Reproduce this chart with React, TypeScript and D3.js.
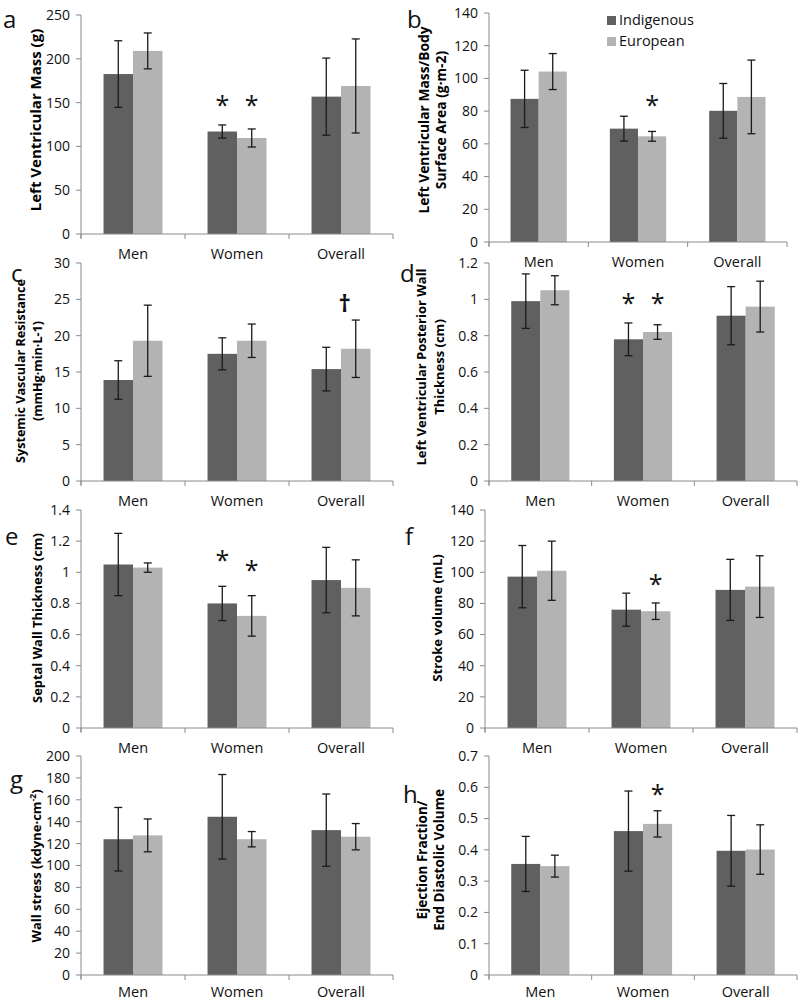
import React from "react";
import * as d3 from "d3";

const categories = ["Men", "Women", "Overall"];
const groups = ["Indigenous", "European"];
const groupColors = ["#606060", "#b3b3b3"];

// a - left ventricular mass
const lvMassInd = [182.6, 117, 156.8];
const lvMassIndSd = [38, 7.5, 44];
const lvMassEur = [209, 109.6, 169];
const lvMassEurSd = [20.5, 10.3, 53.7];
const lvMassTicks = [0, 50, 100, 150, 200, 250];

// b - LV mass / body surface area
const lvmBsaInd = [87.5, 69.3, 80.2];
const lvmBsaIndSd = [17.5, 7.6, 16.7];
const lvmBsaEur = [104.2, 64.6, 88.7];
const lvmBsaEurSd = [11, 3, 22.5];
const lvmBsaTicks = [0, 20, 40, 60, 80, 100, 120, 140];

// c - systemic vascular resistance
const svrInd = [13.9, 17.5, 15.4];
const svrIndSd = [2.65, 2.2, 3];
const svrEur = [19.3, 19.3, 18.2];
const svrEurSd = [4.9, 2.3, 3.95];
const svrTicks = [0, 5, 10, 15, 20, 25, 30];

// d - LV posterior wall thickness
const pwtInd = [0.99, 0.78, 0.91];
const pwtIndSd = [0.15, 0.09, 0.16];
const pwtEur = [1.05, 0.82, 0.96];
const pwtEurSd = [0.08, 0.04, 0.14];
const pwtTicks = [0, 0.2, 0.4, 0.6, 0.8, 1, 1.2];

// e - septal wall thickness
const swtInd = [1.05, 0.8, 0.95];
const swtIndSd = [0.2, 0.11, 0.21];
const swtEur = [1.03, 0.72, 0.9];
const swtEurSd = [0.03, 0.13, 0.18];
const swtTicks = [0, 0.2, 0.4, 0.6, 0.8, 1, 1.2, 1.4];

// f - stroke volume
const svInd = [97.2, 76, 88.7];
const svIndSd = [20, 10.6, 19.6];
const svEur = [101, 75, 90.8];
const svEurSd = [19, 5.3, 19.8];
const svTicks = [0, 20, 40, 60, 80, 100, 120, 140];

// g - wall stress
const wsInd = [124, 144.5, 132.3];
const wsIndSd = [29, 38.6, 33];
const wsEur = [127.5, 124, 126.3];
const wsEurSd = [15, 7, 12];
const wsTicks = [0, 20, 40, 60, 80, 100, 120, 140, 160, 180, 200];

// h - ejection fraction / EDV
const efInd = [0.355, 0.46, 0.397];
const efIndSd = [0.088, 0.128, 0.113];
const efEur = [0.348, 0.483, 0.401];
const efEurSd = [0.035, 0.042, 0.079];
const efTicks = [0, 0.1, 0.2, 0.3, 0.4, 0.5, 0.6, 0.7];

const panels = [
  { letter: "a", lx: 3, ly: 28, title: ["Left Ventricular Mass (g)"], tx: [36], ty: 120, ts: 15, x0: 81, x1: 393, yTop: 15, yBot: 234,
    ind: lvMassInd, indSd: lvMassIndSd, eur: lvMassEur, eurSd: lvMassEurSd, ticks: lvMassTicks,
    marks: [{ c: 1, g: 0, v: 153, s: "*" }, { c: 1, g: 1, v: 153, s: "*" }] },
  { letter: "b", lx: 407, ly: 28, title: ["Left Ventricular Mass/Body", "Surface Area (g\u00b7m-2)"], tx: [424, 441], ty: 120, ts: 13.8, x0: 489, x1: 787, yTop: 13, yBot: 242,
    ind: lvmBsaInd, indSd: lvmBsaIndSd, eur: lvmBsaEur, eurSd: lvmBsaEurSd, ticks: lvmBsaTicks,
    marks: [{ c: 1, g: 1, v: 87, s: "*" }], legend: true },
  { letter: "c", lx: 11, ly: 282, title: ["Systemic Vascular Resistance", "(mmHg\u00b7min\u00b7L-1)"], tx: [21, 38], ty: 371, ts: 12.6, x0: 81, x1: 393, yTop: 263, yBot: 481,
    ind: svrInd, indSd: svrIndSd, eur: svrEur, eurSd: svrEurSd, ticks: svrTicks,
    marks: [{ c: 2, g: 1, v: 24.2, s: "\u2020", dx: -11 }] },
  { letter: "d", lx: 400, ly: 282, title: ["Left Ventricular Posterior Wall", "Thickness (cm)"], tx: [421, 439], ty: 367, ts: 13, x0: 489, x1: 797, yTop: 263, yBot: 481,
    ind: pwtInd, indSd: pwtIndSd, eur: pwtEur, eurSd: pwtEurSd, ticks: pwtTicks,
    marks: [{ c: 1, g: 0, v: 1.01, s: "*" }, { c: 1, g: 1, v: 1.01, s: "*" }] },
  { letter: "e", lx: 5, ly: 545, title: ["Septal Wall Thickness (cm)"], tx: [37], ty: 618, ts: 12.9, x0: 81, x1: 393, yTop: 510, yBot: 728,
    ind: swtInd, indSd: swtIndSd, eur: swtEur, eurSd: swtEurSd, ticks: swtTicks,
    marks: [{ c: 1, g: 0, v: 1.11, s: "*" }, { c: 1, g: 1, v: 1.047, s: "*" }] },
  { letter: "f", lx: 405, ly: 545, title: ["Stroke volume (mL)"], tx: [437], ty: 618, ts: 13.1, x0: 485, x1: 797, yTop: 510, yBot: 728,
    ind: svInd, indSd: svIndSd, eur: svEur, eurSd: svEurSd, ticks: svTicks,
    marks: [{ c: 1, g: 1, v: 96, s: "*" }] },
  { letter: "g", lx: 10, ly: 788, title: ["WALLSTRESS"], tx: [36], ty: 866, ts: 13, x0: 81, x1: 393, yTop: 756, yBot: 975,
    ind: wsInd, indSd: wsIndSd, eur: wsEur, eurSd: wsEurSd, ticks: wsTicks, marks: [] },
  { letter: "h", lx: 403, ly: 803, title: ["Ejection Fraction/", "End Diastolic Volume"], tx: [422, 439], ty: 860, ts: 13.5, x0: 489, x1: 797, yTop: 756, yBot: 975,
    ind: efInd, indSd: efIndSd, eur: efEur, eurSd: efEurSd, ticks: efTicks,
    marks: [{ c: 1, g: 1, v: 0.594, s: "*" }] },
];

const FONT = "'Open Sans', 'DejaVu Sans', sans-serif";
const AXIS = "#8a8a8a";

function Panel({ p }: { p: any }) {
  const x = d3.scaleBand().domain(categories).range([p.x0, p.x1]);
  const sub = d3.scaleBand().domain(groups).range([0, x.bandwidth()]).paddingOuter(0.765);
  const y = d3.scaleLinear().domain([0, p.ticks[p.ticks.length - 1]]).range([p.yBot, p.yTop]);
  const series = [
    { key: groups[0], vals: p.ind, sd: p.indSd },
    { key: groups[1], vals: p.eur, sd: p.eurSd },
  ];
  const bounds = [p.x0, ...categories.map((c) => (x(c) as number) + x.bandwidth())];
  const labelOffset = p.yBot > 900 ? 22 : 25;
  return (
    <g>
      <text x={p.lx} y={p.ly} fontSize={24} fontFamily={FONT} fill="#111">{p.letter}</text>
      {p.title.map((t: string, i: number) => (
        <text key={i} transform={`translate(${p.tx[i]},${p.ty}) rotate(-90)`} textAnchor="middle" dy="0.35em"
          fontSize={p.ts} fontWeight="bold" fontFamily={FONT} fill="#000">
          {t === "WALLSTRESS" ? (
            <>
              Wall stress (kdyne{"\u00b7"}cm<tspan fontSize={8.5} dy={-5}>-2</tspan><tspan dy={5}>)</tspan>
            </>
          ) : t}
        </text>
      ))}
      {/* bars */}
      {series.map((s, gi) =>
        categories.map((c, ci) => {
          const bx = (x(c) as number) + (sub(s.key) as number);
          return (
            <rect key={`${gi}-${ci}`} x={bx} y={y(s.vals[ci])} width={sub.bandwidth()} height={p.yBot - y(s.vals[ci])}
              fill={groupColors[gi]} />
          );
        })
      )}
      {/* error bars */}
      {series.map((s, gi) =>
        categories.map((c, ci) => {
          const cx = (x(c) as number) + (sub(s.key) as number) + sub.bandwidth() / 2;
          const hi = y(s.vals[ci] + s.sd[ci]);
          const lo = y(s.vals[ci] - s.sd[ci]);
          return (
            <g key={`e${gi}-${ci}`} stroke="#1a1a1a" strokeWidth={1.3}>
              <line x1={cx} x2={cx} y1={hi} y2={lo} />
              <line x1={cx - 4} x2={cx + 4} y1={hi} y2={hi} />
              <line x1={cx - 4} x2={cx + 4} y1={lo} y2={lo} />
            </g>
          );
        })
      )}
      {/* axes */}
      <line x1={p.x0} x2={p.x0} y1={p.yTop} y2={p.yBot + 4} stroke={AXIS} />
      <line x1={p.x0} x2={p.x1} y1={p.yBot} y2={p.yBot} stroke={AXIS} />
      {p.ticks.map((t: number) => (
        <g key={t}>
          <line x1={p.x0 - 5} x2={p.x0} y1={y(t)} y2={y(t)} stroke={AXIS} />
          <text x={p.x0 - 11} y={y(t)} dy="0.35em" textAnchor="end" fontSize={14} fontFamily={FONT} fill="#111">
            {String(t)}
          </text>
        </g>
      ))}
      {bounds.map((b, i) => (
        <line key={i} x1={b} x2={b} y1={p.yBot} y2={p.yBot + 5} stroke={AXIS} />
      ))}
      {categories.map((c) => (
        <text key={c} x={(x(c) as number) + x.bandwidth() / 2} y={p.yBot + labelOffset} textAnchor="middle" fontSize={14.5}
          fontFamily={FONT} fill="#111">{c}</text>
      ))}
      {/* significance marks */}
      {p.marks.map((m: any, i: number) => {
        const cx = (x(categories[m.c]) as number) + (sub(groups[m.g]) as number) + sub.bandwidth() / 2 + (m.dx || 0);
        const isStar = m.s === "*";
        const size = isStar ? 25 : 24;
        return (
          <text key={i} x={cx} y={y(m.v) + (isStar ? 0.56 * size : 0.27 * size)} textAnchor="middle" fontSize={size}
            fontWeight={isStar ? "normal" : "bold"} fontFamily={FONT} fill="#111">{m.s}</text>
        );
      })}
      {p.legend && groups.map((g, i) => (
        <g key={g}>
          <rect x={607} y={16 + i * 21} width={9} height={9} fill={groupColors[i]} />
          <text x={619} y={25 + i * 21} fontSize={14.5} fontFamily={FONT} fill="#111">{g}</text>
        </g>
      ))}
    </g>
  );
}

export default function App() {
  return (
    <svg width={800} height={1002} style={{ position: "absolute", left: 0, top: 0, background: "#fff" }}>
      <rect width={800} height={1002} fill="#fff" />
      {panels.map((p) => (
        <Panel key={p.letter} p={p} />
      ))}
    </svg>
  );
}
